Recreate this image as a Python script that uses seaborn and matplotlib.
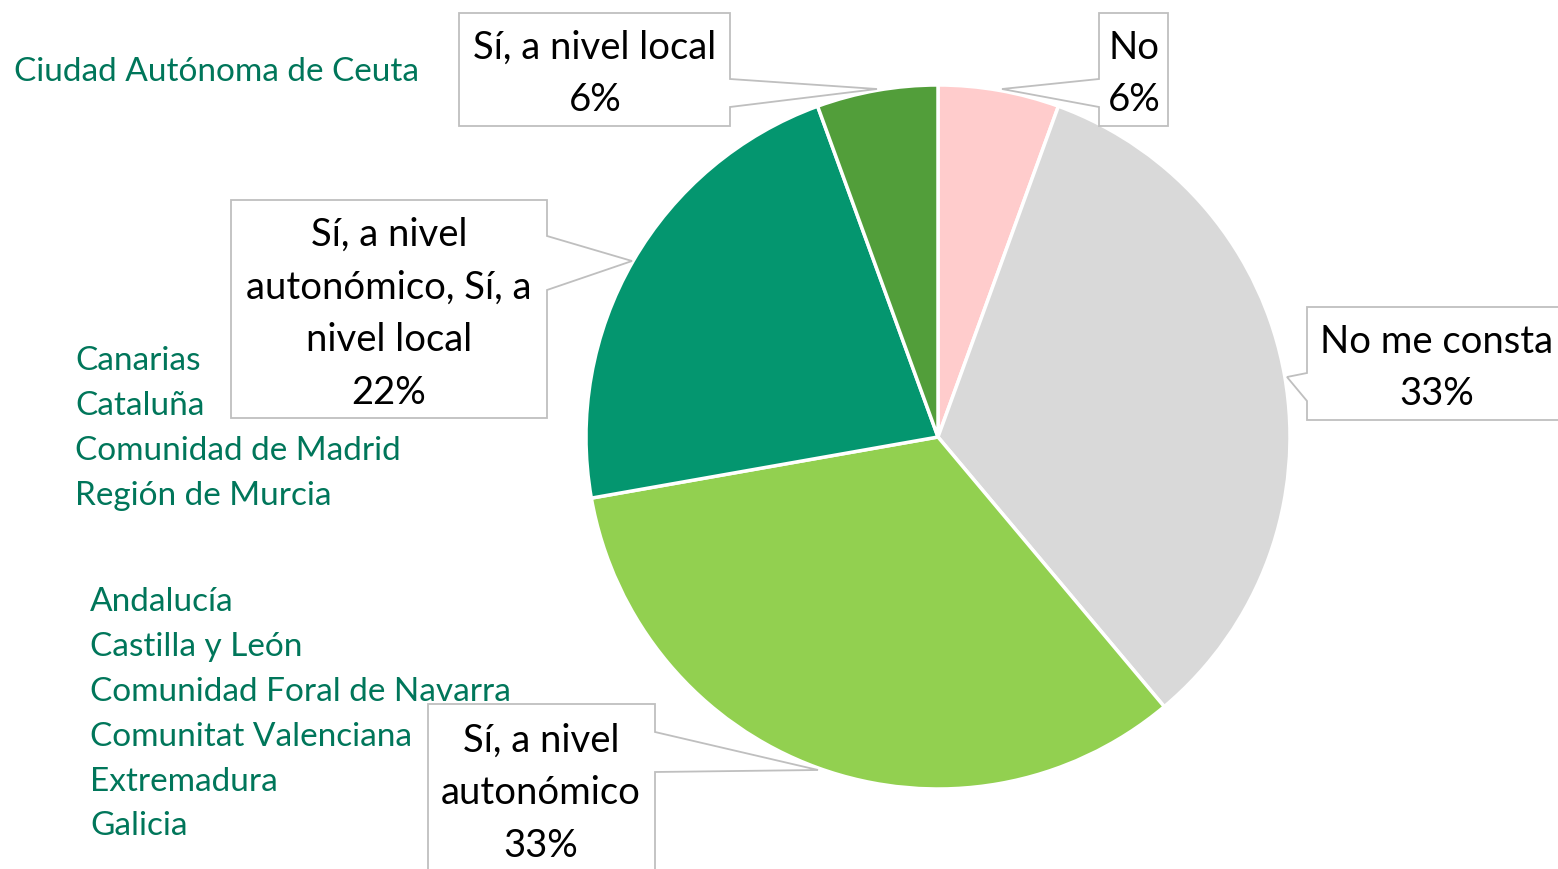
import matplotlib
matplotlib.use("Agg")
import matplotlib.pyplot as plt
from matplotlib.patches import Polygon
import seaborn as sns

# Answers (counts of regions) and their colours, clockwise from 12 o'clock
categories = ['No', 'No me consta', 'Sí, a nivel autonómico',
              'Sí, a nivel autonómico, Sí, a nivel local', 'Sí, a nivel local']
counts = [1, 6, 6, 4, 1]
colors = ['#FFCCCC', '#D9D9D9', '#92D050', '#04966F', '#529E3A']

# label text as shown in the callouts
label_lines = [
    'No',
    'No me consta',
    'Sí, a nivel\nautonómico',
    'Sí, a nivel\nautonómico, Sí, a\nnivel local',
    'Sí, a nivel local',
]

# regions listed next to each group
regions_local = ['Ciudad Autónoma de Ceuta']
regions_both = ['Canarias', 'Cataluña', 'Comunidad de Madrid', 'Región de Murcia']
regions_auto = ['Andalucía', 'Castilla y León', 'Comunidad Foral de Navarra',
                'Comunitat Valenciana', 'Extremadura', 'Galicia']

sns.set_theme(style='white')
plt.rcParams['font.family'] = ['Lato', 'DejaVu Sans']

W, H = 1558, 870
fig = plt.figure(figsize=(W / 100, H / 100), dpi=100)
ax = fig.add_axes([0, 0, 1, 1])

# pie in pixel units (y measured from the bottom)
ax.pie(counts, colors=colors, startangle=90, counterclock=False,
       center=(938, H - 438), radius=352, frame=True,
       wedgeprops=dict(edgecolor='white', linewidth=2.5))
ax.set_xlim(0, W)
ax.set_ylim(0, H)
ax.set_aspect('equal')
ax.axis('off')

total = sum(counts)
pcts = [f'{round(c / total * 100):.0f}%' for c in counts]


def callout(box, side, base, tip, text, center, fs=27.5):
    x0, y0, x1, y1 = box
    a, b = base
    fy = lambda y: H - y
    if side == 'right':
        pts = [(x0, y0), (x1, y0), (x1, a), tip, (x1, b), (x1, y1), (x0, y1)]
    else:
        pts = [(x0, y0), (x1, y0), (x1, y1), (x0, y1), (x0, b), tip, (x0, a)]
    pts = [(x, fy(y)) for x, y in pts]
    ax.add_patch(Polygon(pts, closed=True, facecolor='white',
                         edgecolor='#BFBFBF', linewidth=1.3, zorder=3))
    ax.text(center[0], fy(center[1]), text, ha='center', va='center',
            fontsize=fs, color='black', linespacing=1.57, zorder=4)


# No
callout((1099, 14, 1168, 127), 'left', (80, 108), (1002, 90),
        f'{label_lines[0]}\n{pcts[0]}', (1134, 74))
# No me consta
callout((1307, 308, 1580, 421), 'left', (374, 402), (1287, 378),
        f'{label_lines[1]}\n{pcts[1]}', (1437, 368))
# Sí, a nivel autonómico
callout((428, 705, 655, 900), 'right', (733, 773), (818, 771),
        f'{label_lines[2]}\n{pcts[2]}', (541, 793))
# both
callout((231, 201, 547, 419), 'right', (237, 291), (632, 262),
        f'{label_lines[3]}\n{pcts[3]}', (389, 314))
# local
callout((459, 14, 730, 127), 'right', (80, 108), (877, 90),
        f'{label_lines[4]}\n{pcts[4]}', (595, 74))

# region lists
green_txt = '#00765A'
for names, x, y in [(regions_local, 14, 72), (regions_both, 75, 361),
                    (regions_auto, 90, 602)]:
    for i, name in enumerate(names):
        ax.text(x, H - (y + i * 44.9), name, ha='left', va='center',
                fontsize=24, color=green_txt)

fig.savefig('out.png', dpi=100)
